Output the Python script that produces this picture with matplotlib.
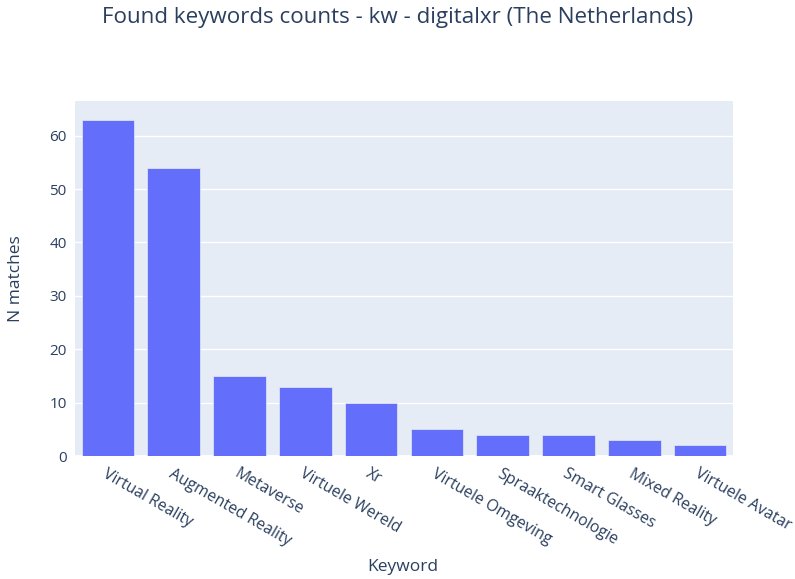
import numpy as np
import matplotlib.pyplot as plt

keywords = ["Virtual Reality", "Augmented Reality", "Metaverse", "Virtuele Wereld", "Xr",
            "Virtuele Omgeving", "Spraaktechnologie", "Smart Glasses", "Mixed Reality",
            "Virtuele Avatar"]
counts = [63, 54, 15, 13, 10, 5, 4, 4, 3, 2]

text_color = "#2a3f5f"
plt.rcParams["font.family"] = ["Open Sans", "DejaVu Sans"]

fig = plt.figure(figsize=(7.95, 5.79), dpi=100)
ax = fig.add_axes([75 / 795, 1 - 456 / 579, (733 - 75) / 795, (456 - 101) / 579])
ax.set_facecolor("#e5ecf6")

x = np.arange(len(keywords))
ax.bar(x, counts, width=0.8, color="#636efa", edgecolor="#e5ecf6", linewidth=0.5, zorder=3)

ax.set_xlim(-0.5, len(keywords) - 0.5)
ax.set_ylim(0, 66.5)
ax.set_yticks(range(0, 61, 10))
ax.grid(axis="y", color="white", linewidth=1.0, zorder=0)
ax.axhline(0, color="white", linewidth=2, zorder=2)
for s in ax.spines.values():
    s.set_visible(False)

ax.set_xticks(x)
ax.set_xticklabels(keywords, rotation=-30, ha="left", va="top", rotation_mode="anchor",
                   fontsize=11.3, color=text_color)
ax.tick_params(axis="x", length=0, pad=7)
ax.tick_params(axis="y", length=0, pad=6, labelsize=11, labelcolor=text_color)

ax.set_ylabel("N matches", fontsize=12.5, color=text_color)
ax.yaxis.set_label_coords(-0.078, 0.5)
fig.text(403 / 795, 1 - 567 / 579, "Keyword", ha="center", va="center", fontsize=12.5, color=text_color)
fig.text(398 / 795, 1 - 18 / 579, "Found keywords counts - kw - digitalxr (The Netherlands)",
         ha="center", va="center", fontsize=16.1, color=text_color)

fig.savefig("out.png", dpi=100, facecolor="white")
